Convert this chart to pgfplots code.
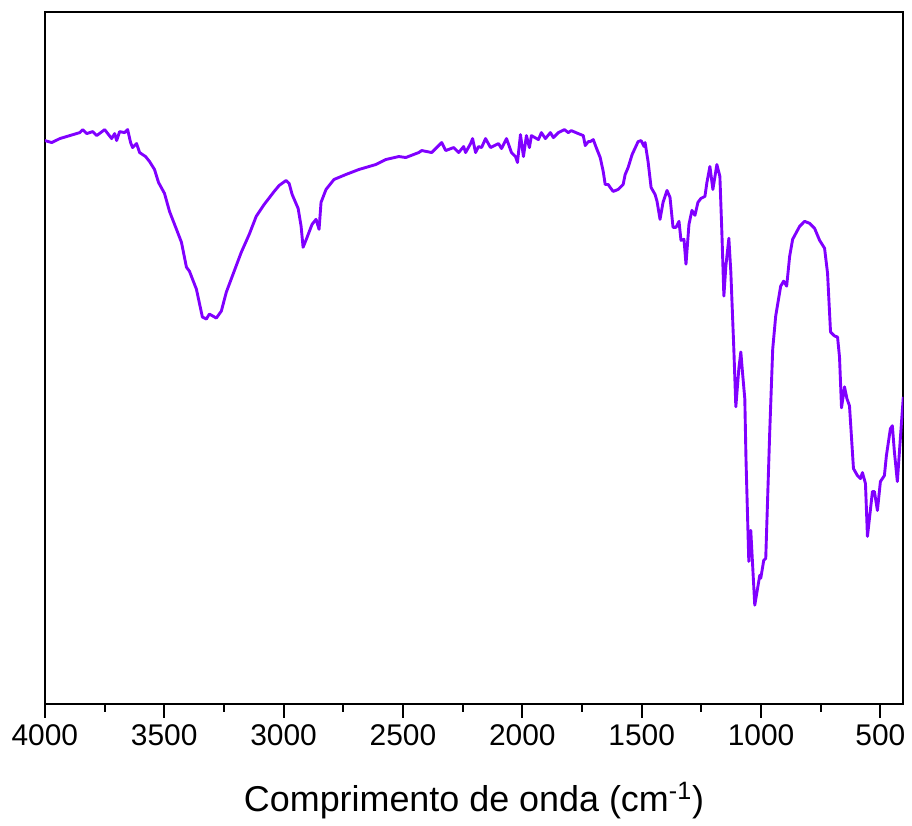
\documentclass[border=0pt]{standalone}
\usepackage{fontspec}
\setmainfont{Liberation Sans}
\usepackage{pgfplots}
\pgfplotsset{compat=1.18}
\definecolor{spec}{RGB}{128,0,255}
\begin{document}
\begin{tikzpicture}
\begin{axis}[
 scale only axis, width=430.5pt, height=347pt,
 x dir=reverse, xmin=404, xmax=4000, ymin=0, ymax=694,
 xtick={500,1000,...,4000}, minor xtick={750,1250,...,3750},
 ytick=\empty, xtick pos=bottom, tick align=outside,
 major tick length=7pt, minor tick length=4pt,
 axis line style={line width=1pt},
 every tick/.style={black, line width=1pt},
 /pgf/number format/assume math mode=true,
 /pgf/number format/set thousands separator={},
 ticklabel style={font=\fontsize{15}{18}\selectfont},
 xlabel={Comprimento de onda (cm\textsuperscript{-1})},
 xlabel style={font=\fontsize{18}{22}\selectfont, yshift=-11pt},
]
\addplot[spec, line width=1.45pt, line join=round] table {
4000 565
3970.8 563
3937.3 567
3895.6 570
3853.8 573
3841.3 576
3824.6 572
3799.5 574
3782.8 570
3749.4 576
3720.2 567
3707.6 572
3699.3 565
3686.8 574
3665.9 573
3653.3 576
3640.8 563
3632.5 558
3615.8 562
3603.2 553
3578.2 549
3561.5 544
3540.6 536
3523.9 523
3498.8 512
3477.9 494
3448.7 476
3427.8 463
3406.9 438
3394.4 434
3365.2 416
3340.1 388
3323.4 386
3310.9 391
3281.6 387
3260.7 394
3239.9 413
3214.8 429
3177.2 453
3143.8 471
3114.6 489
3081.1 501
3039.4 514
3018.5 520
2989.3 525
2976.7 522
2964.2 511
2939.1 497
2926.6 479
2918.3 458
2901.5 468
2880.7 481
2864.0 486
2851.4 476
2843.1 503
2822.2 516
2788.8 526
2738.7 531
2684.4 536
2613.4 541
2571.6 546
2517.3 549
2488.1 548
2433.8 553
2421.2 555
2379.5 553
2337.7 563
2321.0 555
2287.6 558
2266.7 553
2245.8 559
2237.5 553
2216.6 562
2208.3 567
2195.7 553
2183.2 559
2170.7 558
2154.0 567
2133.1 558
2099.7 562
2087.1 557
2066.2 567
2045.4 553
2028.6 549
2020.3 543
2007.8 571
1995.2 549
1982.7 570
1970.2 558
1961.8 570
1932.6 566
1920.0 573
1903.3 567
1882.4 573
1869.9 568
1849.0 573
1824.0 576
1807.3 573
1794.7 575
1765.5 572
1744.6 570
1736.3 560
1723.7 564
1715.4 564
1702.9 566
1690.4 558
1673.7 548
1661.1 534
1652.8 521
1640.3 521
1631.9 518
1619.4 514
1598.5 516
1577.6 521
1569.2 531
1556.7 538
1540.0 551
1514.9 564
1502.4 565
1489.9 559
1485.7 563
1473.2 544
1460.6 518
1443.9 511
1435.6 504
1423.1 486
1410.5 503
1393.8 515
1381.3 508
1368.7 478
1356.2 478
1343.7 484
1335.3 465
1322.8 466
1314.4 441
1301.9 481
1289.4 495
1276.9 490
1264.3 503
1251.8 507
1235.1 509
1226.7 523
1214.2 539
1201.7 516
1185.0 541
1172.4 529
1164.1 473
1155.7 409
1147.4 439
1134.8 467
1126.5 433
1114.0 356
1105.6 298
1093.1 336
1084.7 353
1076.4 329
1068.0 306
1063.0 245
1051.3 143
1043.0 174
1026.3 99
1005.4 129
1001.2 126
988.7 144
980.3 146
963.6 273
951.1 356
938.6 389
917.7 419
905.2 424
892.6 419
880.1 449
867.6 466
838.3 479
817.5 484
796.6 482
775.7 477
754.8 465
733.9 457
721.4 432
708.9 373
692.1 369
679.6 368
671.3 348
662.9 297
650.4 318
640.0 306
629.5 299
612.8 236
596.1 229
583.5 226
575.2 232
562.6 221
554.3 168
533.4 213
525.1 213
512.5 194
500.0 223
483.3 229
474.9 249
458.2 276
449.9 279
441.5 253
429.0 223
416.5 266
404.0 308
};
\end{axis}
\path ([yshift=6pt]current axis.north) -- ([yshift=6pt]current axis.north);
\path ([xshift=-22.5pt]current axis.south west) -- ([xshift=-22.5pt]current axis.south west);
\end{tikzpicture}
\end{document}
